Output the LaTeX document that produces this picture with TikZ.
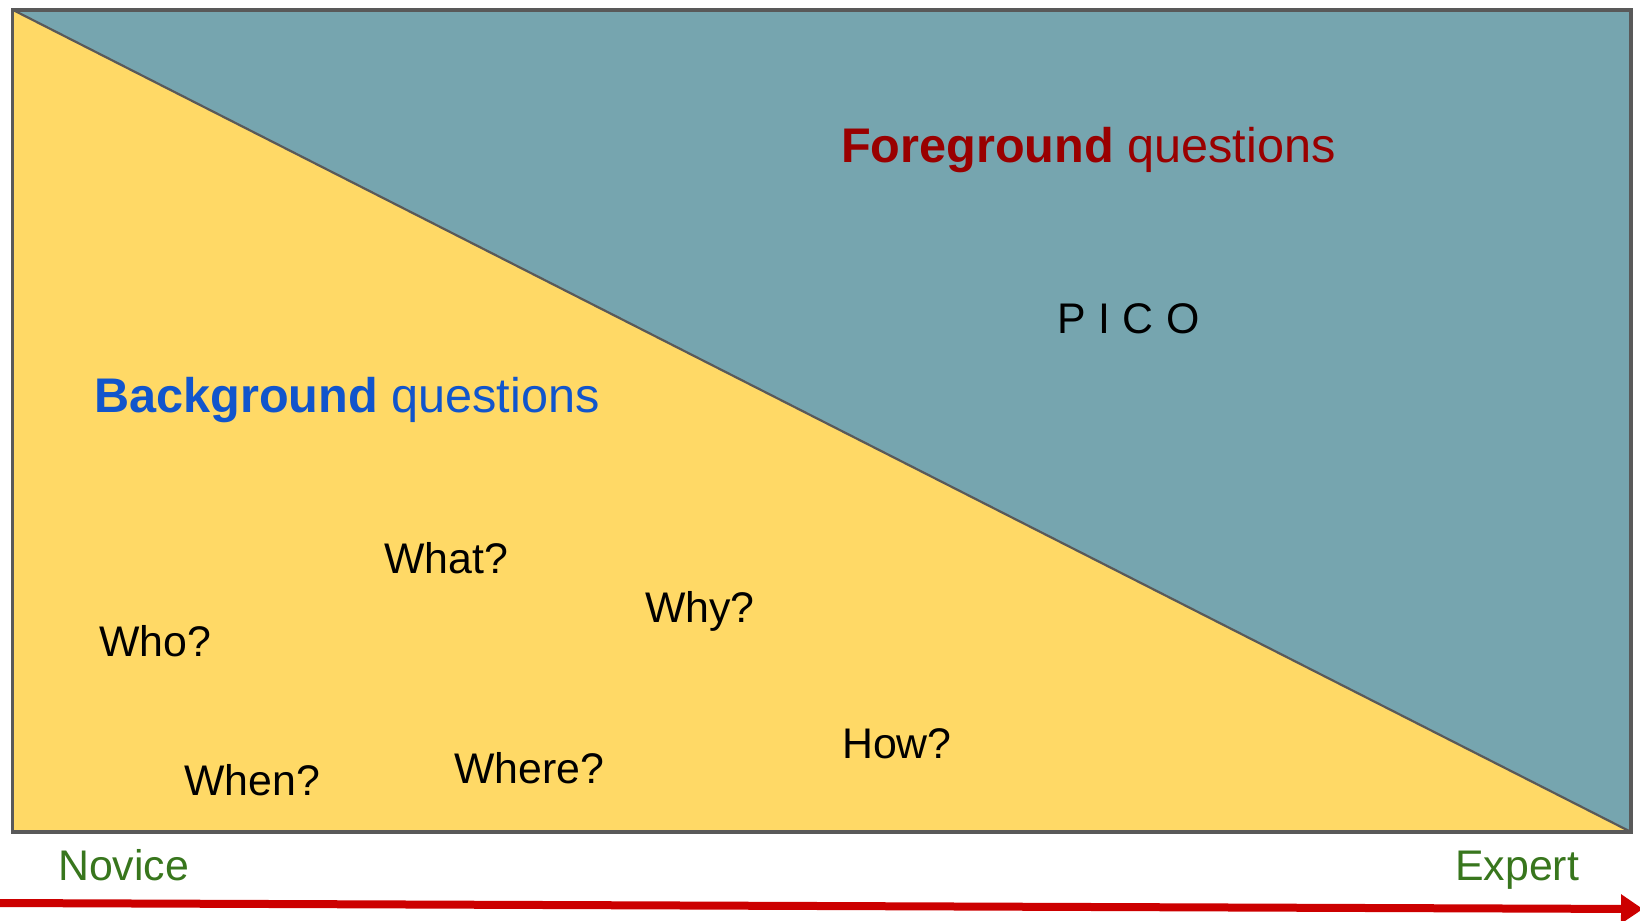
\documentclass[tikz,border=0pt]{standalone}
\usepackage{fontspec}
\setmainfont{Liberation Sans}
\usetikzlibrary{arrows.meta}
\definecolor{fgyellow}{HTML}{FFD966}
\definecolor{fgteal}{HTML}{76A5AF}
\definecolor{bordergray}{HTML}{595959}
\definecolor{fgred}{HTML}{990000}
\definecolor{bgblue}{HTML}{1155CC}
\definecolor{lvgreen}{HTML}{38761D}
\definecolor{arrred}{HTML}{CC0000}
\newcommand{\pgap}{\hspace{12.6bp}}
\tikzset{
  lbl/.style={inner sep=0pt, anchor=base west, font=\fontsize{43}{50}\selectfont},
  head/.style={inner sep=0pt, anchor=base west, font=\fontsize{48.8}{56}\selectfont},
  lvl/.style={lbl, text=lvgreen},
  axis/.style={draw=arrred, line width=8bp, -{Triangle[length=22bp,width=28bp]}},
}
\begin{document}
\begin{tikzpicture}[x=1bp,y=-1bp]
\useasboundingbox (0,0) rectangle (1640,920);
\coordinate (tl) at (12.5,9.7);
\coordinate (tr) at (1631,9.7);
\coordinate (br) at (1631,832);
\coordinate (bl) at (12.5,832);
\fill[fgteal] (tl) -- (tr) -- (br) -- cycle;
\fill[fgyellow] (tl) -- (br) -- (bl) -- cycle;
\draw[bordergray, line width=2.2bp] (tl) -- (br);
\draw[bordergray, line width=3.6bp] (tl) -- (tr) -- (br) -- (bl) -- cycle;

\node[head, text=fgred] (fg) at (841,162) {\textbf{Foreground} questions};
\node[head, text=bgblue] (bg) at (94,412) {\textbf{Background} questions};
\node[lbl] (pico) at (1057,333) {P\pgap I\pgap C\pgap O};
\node[lbl] (who) at (99,656) {Who?};
\node[lbl] (what) at (384,573) {What?};
\node[lbl] (when) at (184,795) {When?};
\node[lbl] (where) at (454,783) {Where?};
\node[lbl] (why) at (645,622) {Why?};
\node[lbl] (how) at (842,758) {How?};
\node[lvl] (novice) at (58,880) {Novice};
\node[lvl] (expert) at (1455,880) {Expert};

\coordinate (arrS) at (-2,903);
\coordinate (arrE) at (1643,909);
\draw[axis] (arrS) -- (arrE);
\end{tikzpicture}
\end{document}
